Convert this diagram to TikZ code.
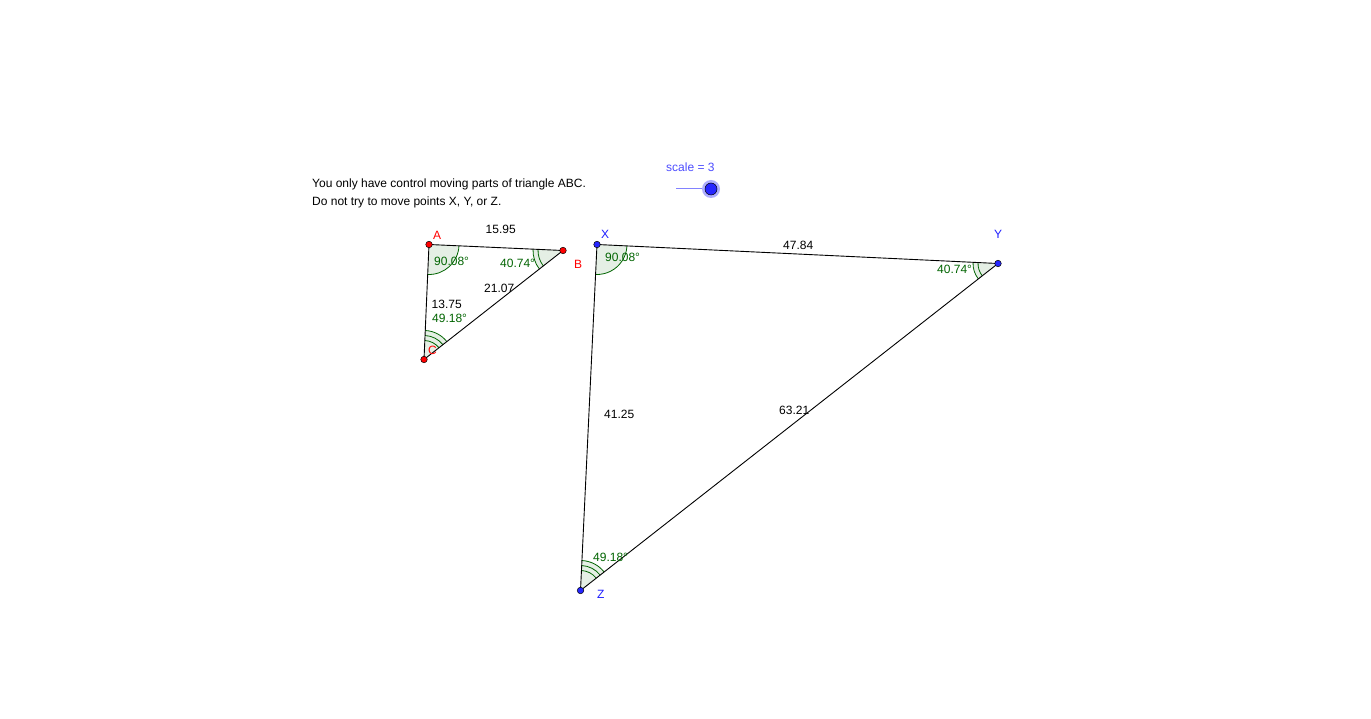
\documentclass[tikz,border=0pt]{standalone}
\usepackage{fontspec}
\setmainfont{Liberation Sans}
\usetikzlibrary{angles}
\definecolor{ggreen}{RGB}{0,100,0}
\definecolor{gred}{RGB}{255,0,0}
\definecolor{gblue}{RGB}{30,30,255}
\definecolor{sldr}{RGB}{77,77,255}
\tikzset{
  x=1pt,y=1pt,
  txt/.style={inner sep=0pt,font=\fontsize{12}{14}\selectfont,text=black},
  ang/.style={inner sep=0pt,font=\fontsize{12}{14}\selectfont,text=ggreen},
  redlab/.style={inner sep=0pt,font=\fontsize{12}{14}\selectfont,text=gred},
  bluelab/.style={inner sep=0pt,font=\fontsize{12}{14}\selectfont,text=gblue},
  redpt/.style={circle,draw=black,line width=0.5pt,fill=gred,inner sep=0pt,minimum size=6.5pt},
  bluept/.style={circle,draw=black,line width=0.5pt,fill=blue!85!white,inner sep=0pt,minimum size=6.5pt},
  side/.style={draw=black,line width=0.9pt},
  arcg/.style={draw=ggreen,line width=0.8pt,fill=none},
  angfill/.style={fill=ggreen,fill opacity=0.1,draw=none},
}
\begin{document}
\begin{tikzpicture}
\useasboundingbox (0,0) rectangle (1371,718);
\fill[white] (0,0) rectangle (1371,718);
% coordinates
\coordinate (pA) at (429,473.5);
\coordinate (pB) at (563,467.5);
\coordinate (pC) at (424,358.5);
\coordinate (pX) at (597,473.5);
\coordinate (pY) at (998,454.5);
\coordinate (pZ) at (580.5,127.5);
% angle fills
\pic[angfill,angle radius=30pt] {angle=pC--pA--pB};
\pic[angfill,angle radius=30pt] {angle=pA--pB--pC};
\pic[angfill,angle radius=29pt] {angle=pB--pC--pA};
\pic[angfill,angle radius=30pt] {angle=pZ--pX--pY};
\pic[angfill,angle radius=25pt] {angle=pX--pY--pZ};
\pic[angfill,angle radius=30pt] {angle=pY--pZ--pX};
% angle arcs
\pic[arcg,angle radius=30pt] {angle=pC--pA--pB};
\pic[arcg,angle radius=30pt] {angle=pA--pB--pC};
\pic[arcg,angle radius=25pt] {angle=pA--pB--pC};
\pic[arcg,angle radius=29pt] {angle=pB--pC--pA};
\pic[arcg,angle radius=24pt] {angle=pB--pC--pA};
\pic[arcg,angle radius=19pt] {angle=pB--pC--pA};
\pic[arcg,angle radius=30pt] {angle=pZ--pX--pY};
\pic[arcg,angle radius=25pt] {angle=pX--pY--pZ};
\pic[arcg,angle radius=20pt] {angle=pX--pY--pZ};
\pic[arcg,angle radius=30pt] {angle=pY--pZ--pX};
\pic[arcg,angle radius=25pt] {angle=pY--pZ--pX};
\pic[arcg,angle radius=20pt] {angle=pY--pZ--pX};
% sides
\draw[side] (pA) -- (pB) -- (pC) -- cycle;
\draw[side] (pX) -- (pY) -- (pZ) -- cycle;
% points
\node[redpt] (A) at (pA) {};
\node[redpt] (B) at (pB) {};
\node[redpt] (C) at (pC) {};
\node[bluept] (X) at (pX) {};
\node[bluept] (Y) at (pY) {};
\node[bluept] (Z) at (pZ) {};
% point labels
\node[redlab,anchor=base west] (lA) at (433,478) {A};
\node[redlab,anchor=base west] (lB) at (574,449) {B};
\node[redlab,anchor=base west] (lC) at (428,363) {C};
\node[bluelab,anchor=base west] (lX) at (601,479) {X};
\node[bluelab,anchor=base west] (lY) at (994,479) {Y};
\node[bluelab,anchor=base west] (lZ) at (597,120) {Z};
% lengths
\node[txt,anchor=base west] (s1) at (485.5,484) {15.95};
\node[txt,anchor=base west] (s2) at (484,425) {21.07};
\node[txt,anchor=base west] (s3) at (431.5,409) {13.75};
\node[txt,anchor=base west] (s4) at (783,468) {47.84};
\node[txt,anchor=base west] (s5) at (604,299) {41.25};
\node[txt,anchor=base west] (s6) at (779,303) {63.21};
% angles
\node[ang,anchor=base west] (a1) at (434,452) {90.08°};
\node[ang,anchor=base west] (a2) at (500,450) {40.74°};
\node[ang,anchor=base west] (a3) at (432,395) {49.18°};
\node[ang,anchor=base west] (a4) at (605,456) {90.08°};
\node[ang,anchor=base west] (a5) at (937,444) {40.74°};
\node[ang,anchor=base west] (a6) at (593,157) {49.18°};
% text
\node[txt,anchor=base west] (t1) at (312,530) {You only have control moving parts of triangle ABC.};
\node[txt,anchor=base west] (t2) at (312,512.5) {Do not try to move points X, Y, or Z.};
% slider
\node[bluelab,text=sldr,anchor=base west] (sl) at (666,546) {scale = 3};
\coordinate (sl0) at (676,529.5);
\node[circle,fill=sldr,fill opacity=0.45,inner sep=0pt,minimum size=18pt] (kh) at (711,529) {};
\node[circle,draw=black,line width=0.5pt,fill=blue!85!white,inner sep=0pt,minimum size=12pt] (k) at (711,529) {};
\draw[draw=sldr!70!white,line width=0.6pt] (sl0) -- (kh.west |- sl0);
\end{tikzpicture}
\end{document}
